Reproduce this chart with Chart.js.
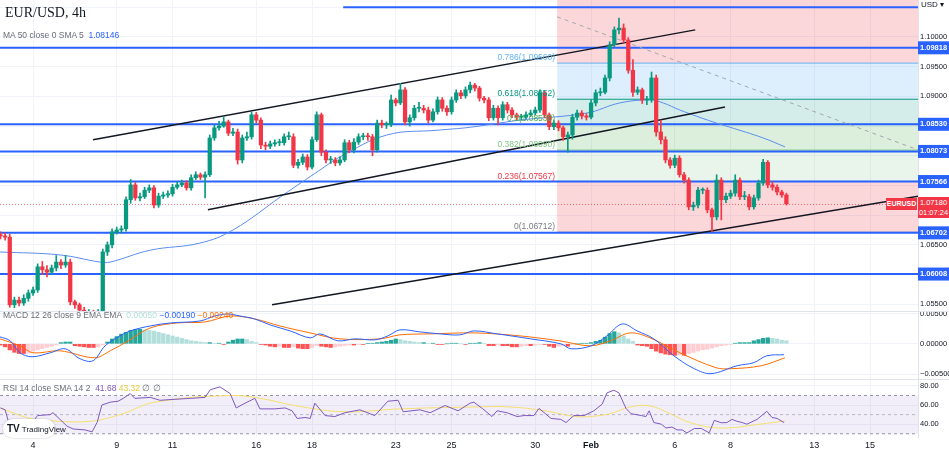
<!DOCTYPE html>
<html>
<head>
<meta charset="utf-8">
<script src="https://cdn.jsdelivr.net/npm/chart.js@4.4.1/dist/chart.umd.min.js"></script>
<style>
  body { margin: 0; background: #fff; width: 949px; height: 454px; overflow: hidden; font-family: "Liberation Sans", Arial, sans-serif; }
  .pane { position: absolute; left: 0; width: 949px; }
  .lbl { position: absolute; font-size: 8.5px; color: #6a6d78; white-space: nowrap; }
  .sep { position: absolute; left: 0; width: 949px; height: 1px; background: #e0e3eb; }
</style>
</head>
<body>
<div class="pane" style="top:0;height:311px"><canvas id="price"></canvas></div>
<div class="pane" style="top:312px;height:67px"><canvas id="macd"></canvas></div>
<div class="pane" style="top:380px;height:74px"><canvas id="rsi"></canvas></div>
<div class="sep" style="top:311px"></div>
<div class="sep" style="top:379px"></div>

<div class="lbl" style="left:5px;top:5px;font-family:'Liberation Serif',serif;font-size:14px;color:#131722">EUR/USD, 4h</div>
<div class="lbl" style="left:3px;top:30px">MA 50 close 0 SMA 5 &nbsp;<span style="color:#2962ff">1.08146</span></div>
<div class="lbl" style="left:3px;top:310px">MACD 12 26 close 9 EMA EMA &nbsp;<span style="color:#b2dfdb">0.00050</span> <span style="color:#2962ff">−0.00190</span> <span style="color:#ff6d00">−0.00240</span></div>
<div class="lbl" style="left:3px;top:383px">RSI 14 close SMA 14 2 &nbsp;<span style="color:#7e57c2">41.68</span> <span style="color:#e8c93a">43.32</span> ∅ ∅</div>
<div style="position:absolute;left:3px;top:419px;width:52px;height:19px;background:#fff;border-radius:10px;box-shadow:0 0 2px rgba(0,0,0,0.25);font-size:8px;color:#131722;line-height:19px;white-space:nowrap">
  <span style="font-weight:bold;font-size:10px;margin-left:4px">TV</span> TradingView</div>
<div style="position:absolute;left:921px;top:0;font-size:8px;color:#131722">USD ▾</div>
<div style="position:absolute;left:886px;top:198px;width:31px;height:12px;background:#f23645;color:#fff;font-size:7px;font-weight:bold;line-height:12px;text-align:center">EURUSD</div>
<div id="lastBox" style="position:absolute;left:918px;top:197px;width:31px;height:21px;background:#f23645;color:#fff;font-size:7.5px;line-height:10px;text-align:center;padding-top:1px;box-sizing:border-box"></div>

<script>
// ---- data (x = 4h candle index, 0 = Jan 4 00:00, 6 candles per trading day) ----
const firstCandle = -7;
const firstOpen = 1.0667;
const closes = [1.0665,1.0663,1.0549,1.0557,1.0552,1.0560,1.0569,1.0574,1.0613,1.0608,1.0604,1.0611,1.0621,1.0616,1.0621,1.0554,1.0549,1.0540,1.0532,1.0537,1.0532,1.0537,
  1.0638,1.0650,1.0672,1.0675,1.0677,1.0726,1.0751,1.0729,1.0731,1.0742,1.0746,1.0717,1.0732,1.0734,1.0736,1.0747,1.0751,1.0754,1.0746,1.0763,1.0768,1.0764,1.0768,
  1.0830,1.0847,1.0850,1.0857,1.0838,1.0840,1.0793,1.0830,1.0832,1.0869,1.0860,1.0818,1.0816,1.0820,1.0822,1.0822,1.0832,1.0832,1.0784,1.0789,1.0798,1.0781,1.0827,1.0869,
  1.0806,1.0793,1.0793,1.0788,1.0793,1.0822,1.0810,1.0823,1.0832,1.0833,
  1.0832,1.0810,1.0855,1.0852,1.0852,1.0894,1.0889,1.0911,1.0857,1.0864,
  1.0880,1.0880,1.0877,1.0860,1.0874,1.0894,1.0880,1.0874,1.0894,1.0906,
  1.0901,1.0911,1.0919,1.0914,1.0897,1.0894,1.0864,1.0880,1.0864,1.0886,
  1.0877,1.0869,1.0865,1.0865,1.0869,1.0872,1.0877,1.0906,1.0869,1.0849,
  1.0855,1.0847,1.0832,1.0835,1.0865,1.0872,1.0867,1.0865,1.0889,1.0906,
  1.0907,1.0931,1.0987,1.1012,1.1015,1.0995,1.0944,1.0907,1.0911,1.0894,
  1.0894,1.0931,1.0840,1.0827,1.0793,1.0784,1.0796,1.0768,1.0759,1.0714,
  1.0717,1.0742,1.0742,1.0709,1.0697,1.0759,1.0726,1.0732,1.0737,1.0759,
  1.0731,1.0731,1.0714,1.0729,1.0754,1.0789,1.0751,1.0747,1.0739,1.0734,1.0719];
const highs = [1.0672,1.0670,1.0668,1.0562,1.0562,1.0566,1.0574,1.0579,1.0618,1.0622,1.0615,1.0616,1.0632,1.0625,1.0632,1.0626,1.0557,1.0552,1.0545,1.0541,1.0540,1.0541,
  1.0643,1.0655,1.0677,1.0680,1.0682,1.0731,1.0760,1.0755,1.0737,1.0747,1.0751,1.0750,1.0737,1.0739,1.0741,1.0752,1.0756,1.0759,1.0758,1.0768,1.0773,1.0771,1.0773,
  1.0835,1.0852,1.0858,1.0866,1.0860,1.0846,1.0845,1.0835,1.0840,1.0874,1.0873,1.0864,1.0823,1.0825,1.0827,1.0828,1.0837,1.0840,1.0837,1.0794,1.0803,1.0802,1.0832,1.0874,
  1.0872,1.0810,1.0799,1.0797,1.0798,1.0827,1.0826,1.0829,1.0837,1.0838,
  1.0838,1.0836,1.0860,1.0860,1.0857,1.0902,1.0897,1.0922,1.0915,1.0869,
  1.0885,1.0890,1.0885,1.0882,1.0879,1.0899,1.0898,1.0884,1.0899,1.0911,
  1.0910,1.0916,1.0924,1.0922,1.0917,1.0900,1.0898,1.0885,1.0884,1.0891,
  1.0890,1.0881,1.0872,1.0870,1.0874,1.0877,1.0882,1.0911,1.0909,1.0872,
  1.0860,1.0859,1.0850,1.0840,1.0870,1.0877,1.0876,1.0871,1.0894,1.0911,
  1.0914,1.0936,1.0992,1.1017,1.1032,1.1022,1.0999,1.0962,1.0916,1.0914,
  1.0900,1.0941,1.0936,1.0860,1.0832,1.0797,1.0801,1.0800,1.0772,1.0763,
  1.0722,1.0747,1.0746,1.0746,1.0712,1.0768,1.0763,1.0737,1.0742,1.0768,
  1.0763,1.0740,1.0735,1.0734,1.0759,1.0794,1.0792,1.0756,1.0751,1.0742,1.0737];
const lows = [1.0660,1.0658,1.0545,1.0544,1.0547,1.0548,1.0555,1.0565,1.0570,1.0600,1.0596,1.0600,1.0606,1.0610,1.0612,1.0549,1.0543,1.0535,1.0528,1.0527,1.0528,1.0528,
  1.0533,1.0632,1.0645,1.0668,1.0670,1.0673,1.0720,1.0725,1.0724,1.0728,1.0738,1.0712,1.0713,1.0728,1.0730,1.0732,1.0744,1.0748,1.0742,1.0742,1.0760,1.0760,1.0729,
  1.0765,1.0826,1.0843,1.0848,1.0834,1.0834,1.0786,1.0788,1.0826,1.0828,1.0855,1.0812,1.0810,1.0812,1.0816,1.0817,1.0818,1.0827,1.0780,1.0779,1.0785,1.0776,1.0778,1.0824,
  1.0800,1.0788,1.0787,1.0783,1.0784,1.0790,1.0805,1.0805,1.0819,1.0827,
  1.0826,1.0800,1.0806,1.0847,1.0846,1.0849,1.0884,1.0886,1.0852,1.0850,
  1.0860,1.0874,1.0872,1.0855,1.0857,1.0870,1.0875,1.0868,1.0870,1.0890,
  1.0896,1.0897,1.0906,1.0909,1.0892,1.0889,1.0859,1.0860,1.0852,1.0860,
  1.0872,1.0864,1.0860,1.0860,1.0862,1.0866,1.0869,1.0873,1.0864,1.0844,
  1.0844,1.0842,1.0826,1.0806,1.0828,1.0860,1.0862,1.0860,1.0862,1.0884,
  1.0901,1.0904,1.0926,1.0983,1.1005,1.0990,1.0939,1.0900,1.0903,1.0888,
  1.0886,1.0890,1.0833,1.0820,1.0788,1.0779,1.0780,1.0764,1.0754,1.0709,
  1.0708,1.0712,1.0736,1.0704,1.0672,1.0692,1.0692,1.0721,1.0728,1.0732,
  1.0726,1.0726,1.0709,1.0710,1.0725,1.0750,1.0746,1.0742,1.0734,1.0730,1.0717];

const maX = [-7.1,5.8,14.4,16.6,25.2,35.9,43,53.8,61.7,66,76.1,86.9,94,104.7,119.1,126.2,132.7,135.5,139.1,146.2,149.9,157,161.7];
const maY = [1.0638,1.0633,1.0621,1.0621,1.0641,1.0653,1.0675,1.0734,1.0776,1.0798,1.0835,1.0843,1.0848,1.0860,1.0872,1.0889,1.0894,1.0889,1.0877,1.0857,1.0848,1.0830,1.0815];

const levelPrices = [1.09818,1.08530,1.08073,1.07566,1.06702,1.06008];
const topLine = {from: 66.7, price: 1.1050};
const lastPrice = 1.07180;
const countdown = "01:07:24";
const trendLines = [
  [[12.9,1.0827],[142.4,1.1012]],
  [[37.6,1.0709],[148.8,1.0882]],
  [[51.4,1.0549],[190.3,1.0732]]
];
const dashedLine = [[112.7,1.1034],[190.3,1.0810]];
const fibStart = 112.7;
const fibRatios = [0, 0.236, 0.382, 0.5, 0.618, 0.786];
const fibPrices = [1.06712, 1.07567, 1.08096, 1.08530, 1.08952, 1.09560];
const fibText = ["0(1.06712)", "0.236(1.07567)", "0.382(1.08090)", "0.5(1.08530)", "0.618(1.08952)", "0.786(1.09560)"];

const macdHist = [-0.0002,-0.0005,-0.0010,-0.0014,-0.0016,-0.0016,-0.0015,
  -0.0012,-0.0010,-0.0008,-0.0006,-0.0004,-0.0002,
  0.0002,0.0003,0.0003,
  -0.0003,-0.0004,-0.0005,-0.0006,-0.0006,-0.0005,
  -0.0002,
  0.0003,0.0008,0.0012,0.0016,0.0019,0.0022,0.0024,
  0.0024,0.0023,0.0022,0.0021,0.0019,0.0017,0.0015,0.0013,0.0011,0.0009,0.0007,0.0005,0.0004,0.0003,0.0002,0.0002,0.0001,0.0001,
  -0.0001,
  0.0003,0.0006,0.0008,0.0008,0.0007,0.0004,
  0.0002,-0.0001,-0.0002,
  -0.0004,-0.0005,-0.0004,
  -0.0006,-0.0006,-0.0005,-0.0007,-0.0008,-0.0008,-0.0006,
  -0.0003,-0.0004,-0.0005,-0.0006,-0.0005,-0.0004,
  -0.0003,-0.0002,-0.0002,-0.0001,-0.0001,
  0.0001,0.0001,0.0002,0.0003,0.0004,0.0006,0.0008,0.0007,0.0005,
  0.0004,0.0003,0.0002,0.0002,0.0001,0.0001,-0.0001,-0.0001,0,
  0.0001,0.0001,0,-0.0001,0.0001,0.0001,0.0002,0.0001,
  -0.0003,-0.0003,-0.0002,-0.0003,-0.0003,
  -0.0005,-0.0005,-0.0004,
  -0.0003,-0.0003,-0.0002,-0.0001,-0.0001,
  -0.0004,-0.0006,-0.0004,-0.0003,-0.0004,
  -0.0001,0,0.0001,0.0001,
  0.0002,0.0004,0.0006,0.0011,0.0017,0.0020,0.0018,
  0.0013,0.0008,0.0004,
  -0.0002,-0.0003,-0.0004,
  -0.0008,-0.0012,-0.0015,-0.0017,-0.0018,
  -0.0019,-0.0018,-0.0019,
  -0.0016,-0.0014,-0.0012,-0.0010,-0.0009,-0.0007,-0.0005,-0.0003,-0.0002,
  -0.0001,0.0001,0.0002,0.0002,0.0002,
  0.0005,0.0007,0.0009,0.0010,
  0.0009,0.0008,0.0006,0.0005];
const macdX = [-7.1,-4.9,-2.8,-0.2,3.7,6.9,10.1,12.9,15.5,18.7,20.9,25.2,29.5,35.9,39.1,41.9,44.5,47.7,51,55.3,59.6,61.7,65.6,69.2,73.5,76.3,78.9,83.2,87.5,91.8,94.8,99.8,107,113.5,115.7,120,123.4,126.7,129.9,133.5,137.8,142.2,145.8,151.4,155,157.8,161.5];
const macdY = [0.00115,0.00049,-0.00148,-0.00213,-0.00148,-0.00082,-0.00246,-0.00279,-0.00033,0.00131,0.00213,0.00295,0.00344,0.00377,0.00459,0.00492,0.00459,0.0041,0.00311,0.00213,0.00098,0.00164,0.00049,0.00082,0.00066,0.00131,0.0023,0.00197,0.00164,0.00148,0.00213,0.00164,0.00082,0,-0.00082,-0.00033,0.00131,0.00328,0.00213,0.00082,-0.00197,-0.0041,-0.00492,-0.00361,-0.0031,-0.00197,-0.0018];
const signalX = [-7.1,-2.8,0,5.8,13.3,16.6,20.5,25.2,31,37,42.4,47.7,53.1,59.6,66,74.6,78.9,85.4,95,104.7,113.3,119.8,124.1,128.4,132.7,139.1,146.9,150.1,156.6,161.7];
const signalY = [0.00082,-0.00033,-0.00148,-0.00115,-0.0023,-0.00115,0.00049,0.00262,0.00344,0.00361,0.00459,0.0041,0.00295,0.0018,0.00082,0.00082,0.00148,0.00164,0.0018,0.00131,0.00049,-0.00033,0.00049,0.0018,0.00098,-0.00148,-0.00394,-0.0041,-0.00361,-0.0023];

const rsiX = [-7,-6,-5,-3,0,1,3.7,4.3,5.8,7.3,8.6,11.2,12.7,13.8,14.8,16.6,18.3,19.4,20.9,21.9,25.2,27.3,30.5,33.8,37,38.1,40.2,42.4,43.7,45.6,47.7,48.8,52,54.2,55.7,56.8,58.5,59.6,60.6,62.8,64.9,67.1,70.3,73.5,76.3,78.5,79.6,83.2,85.4,88.6,91.4,94,94.8,96.6,98.7,99.8,101.9,104.1,105.6,107.7,108.8,111.4,113.5,114.6,116.3,118.5,120.6,122.4,123.4,124.9,126,127.5,128.6,130.8,131.8,132.5,133.5,135.1,136.1,137.4,138.5,139.6,140.6,142.2,143.7,145.4,146.5,148,149.2,150.3,151.4,152.5,153.5,155.7,157.8,158.9,160,161.5];
const rsiY = [57,55,38,40,43,49,50,52,45,38,35,34,32,42,60,63,64,67,72,67,68,65,66,67,68,76,79,72,57,62,67,56,56,57,54,46,47,46,62,49,48,52,55,49,64,65,53,55,52,59.5,54,62,63,56.5,48,54,52,48,49,49,56.5,46,45,41.7,49,49,54,61,72.7,75.5,72.7,56.5,51,49,48,54,41.7,40,36,37,34,34,30.8,35.5,35.5,31,44,41.5,41.7,45,43,41.7,40,45,53.5,47,46,41.68];
const rsiSmaX = [-7.1,-0.6,3.7,12.3,18.7,26.2,42.4,48.8,57.4,67.1,78.9,95,102.6,110.1,116.6,119.8,124.1,128.4,132.7,137,141.3,147.7,156.3,161.7];
const rsiSmaY = [57,46,43.5,43,50,63,70,67,58.5,53,56,58,58,54,48,48,51,58,59,51,41.7,36,40,43.32];

const dayTicks = [0,3,5,8,10,13,15,18,20,23,25,28,30];
const dayLabels = ["4","9","11","16","18","23","25","30","Feb","6","8","13","15"];

// ---- shared helpers ----
const X_MIN = -7.1, X_MAX = 190.3, AXIS_W = 31;
const GRID = "#f0f3fa";
const FONT = "'Liberation Sans', Arial, sans-serif";
const pts = (xs, ys) => xs.map((x, i) => ({x: x, y: ys[i]}));
const seg = (a, b) => [{x: a[0], y: a[1]}, {x: b[0], y: b[1]}];
const tv = ctx => (ctx && ctx.tick) ? ctx.tick.value : null;

document.getElementById("lastBox").innerHTML = lastPrice.toFixed(5) + "<br>" + countdown;

function xScale(showLabels) {
  return {
    type: "linear", min: X_MIN, max: X_MAX, offset: false,
    afterBuildTicks: s => { s.ticks = dayTicks.map(d => ({value: d * 6})); },
    afterFit: s => { s.height = showLabels ? 17 : 0; s.paddingLeft = 0; s.paddingRight = 0; },
    ticks: {display: showLabels, autoSkip: false, maxRotation: 0, padding: 3,
      callback: (v) => dayLabels[dayTicks.indexOf(v / 6)],
      font: ctx => ({family: FONT, size: 9, weight: tv(ctx) === 120 ? "bold" : "normal"}),
      color: "#131722"},
    grid: {color: GRID, drawTicks: false, offset: false},
    border: {display: false}
  };
}
function yScale(min, max, tickVals, fmt, extra) {
  return Object.assign({
    position: "right", min: min, max: max,
    afterBuildTicks: s => { s.ticks = tickVals.map(v => ({value: v})); },
    afterFit: s => { s.width = AXIS_W; s.paddingTop = 0; s.paddingBottom = 0; },
    ticks: {callback: fmt, color: "#131722", font: {family: FONT, size: 7.5}, padding: 2, autoSkip: false},
    grid: {color: GRID, drawTicks: false},
    border: {color: "#e0e3eb"}
  }, extra || {});
}
const baseOpts = {
  responsive: true, maintainAspectRatio: false, animation: false,
  layout: {padding: 0},
  plugins: {legend: {display: false}, tooltip: {enabled: false}},
  elements: {point: {radius: 0}}
};

// ---- price pane ----
const candles = closes.map((c, i) => {
  const o = i === 0 ? firstOpen : closes[i - 1];
  return {x: firstCandle + i, o: o, c: c, h: highs[i], l: lows[i]};
});
const UP = "#089981", DN = "#f23645";
const fibLine = ["#787b86", "#f23645", "#81c784", "#4caf50", "#089981", "#64b5f6"];
// band fill below each level (between level i-1 and level i)
const fibFill = ["", "rgba(242,54,69,0.2)", "rgba(76,175,80,0.12)", "rgba(76,175,80,0.2)", "rgba(0,150,136,0.17)"];

const priceSets = [];
fibPrices.forEach((p, i) => {
  priceSets.push({type: "line", data: seg([fibStart, p], [X_MAX, p]), borderColor: fibLine[i], borderWidth: 1,
    fill: (i === 0 || i === 5) ? false : {target: i - 1}, backgroundColor: fibFill[i] || "transparent", order: 20});
});
// 0.618-0.786 band, and pink band above 0.786
priceSets.push({type: "line", data: seg([fibStart, fibPrices[5]], [X_MAX, fibPrices[5]]), borderWidth: 0,
  fill: {target: 4}, backgroundColor: "rgba(100,181,246,0.22)", order: 21});
priceSets.push({type: "line", data: seg([fibStart, fibPrices[5]], [X_MAX, fibPrices[5]]), borderWidth: 0,
  fill: "end", backgroundColor: "rgba(242,54,69,0.2)", order: 21});

levelPrices.forEach(p => priceSets.push({type: "line", data: seg([X_MIN, p], [X_MAX, p]), borderColor: "#2962ff", borderWidth: 2, order: 3}));
priceSets.push({type: "line", data: seg([topLine.from, topLine.price], [X_MAX, topLine.price]), borderColor: "#2962ff", borderWidth: 2, order: 3});
priceSets.push({type: "line", data: seg([X_MIN, lastPrice], [X_MAX, lastPrice]), borderColor: "rgba(242,54,69,0.7)", borderWidth: 1, borderDash: [1, 2], order: 4});
trendLines.forEach(t => priceSets.push({type: "line", data: seg(t[0], t[1]), borderColor: "#131722", borderWidth: 1.5, order: 2}));
priceSets.push({type: "line", data: seg(dashedLine[0], dashedLine[1]), borderColor: "#a3a6af", borderWidth: 1, borderDash: [4, 4], order: 2});
priceSets.push({type: "line", data: pts(maX, maY), borderColor: "#5b8def", borderWidth: 1, tension: 0.4, order: 2});
priceSets.push({type: "bar", data: candles.map(k => ({x: k.x, y: [k.l, k.h]})), barThickness: 1, grouped: false,
  backgroundColor: candles.map(k => k.c >= k.o ? UP : DN), order: 1});
priceSets.push({type: "bar", data: candles.map(k => ({x: k.x, y: [k.o, k.c]})), barThickness: 3.6, grouped: false,
  minBarLength: 1, backgroundColor: candles.map(k => k.c >= k.o ? UP : DN), order: 0});

const plainTicks = [1.100, 1.095, 1.090, 1.065, 1.055];
const gridOnly = [1.105, 1.085, 1.080, 1.075, 1.070, 1.060];
const priceTicks = gridOnly.concat(plainTicks, levelPrices);
const isLevel = v => levelPrices.includes(v);
const priceLabel = v => gridOnly.includes(v) ? "" : v.toFixed(5);

const fibLabels = {
  id: "fibLabels",
  afterDatasetsDraw(chart) {
    const {ctx, scales} = chart;
    const x = scales.x.getPixelForValue(fibStart) - 2;
    ctx.save();
    ctx.font = "8.5px " + FONT;
    ctx.textAlign = "right";
    ctx.textBaseline = "bottom";
    fibPrices.forEach((p, i) => {
      ctx.fillStyle = fibLine[i];
      ctx.fillText(fibText[i], x, scales.y.getPixelForValue(p) - 1);
    });
    ctx.restore();
  }
};

new Chart(document.getElementById("price"), {
  data: {datasets: priceSets},
  options: Object.assign({}, baseOpts, {
    scales: {
      x: xScale(false),
      y: yScale(1.05386, 1.10623, priceTicks, priceLabel, {
        ticks: {
          callback: priceLabel,
          color: ctx => isLevel(tv(ctx)) ? "#ffffff" : "#131722",
          font: ctx => ({family: FONT, size: 7.5, weight: isLevel(tv(ctx)) ? "bold" : "normal"}),
          showLabelBackdrop: true,
          backdropColor: ctx => isLevel(tv(ctx)) ? "#2962ff" : "rgba(0,0,0,0)",
          backdropPadding: {x: 2, y: 2},
          padding: 2, autoSkip: false
        },
        grid: {color: ctx => (gridOnly.includes(tv(ctx)) || plainTicks.includes(tv(ctx))) ? GRID : "rgba(0,0,0,0)", drawTicks: false}
      })
    }
  }),
  plugins: [fibLabels]
});

// ---- MACD pane ----
const histColors = macdHist.map((v, i) => {
  const prev = i === 0 ? 0 : macdHist[i - 1];
  if (v >= 0) return v >= prev ? "#26a69a" : "#b2dfdb";
  return v <= prev ? "#ff5252" : "#ffcdd2";
});
new Chart(document.getElementById("macd"), {
  data: {datasets: [
    {type: "line", data: pts(macdX, macdY), borderColor: "#2962ff", borderWidth: 1, tension: 0.35, order: 0},
    {type: "line", data: pts(signalX, signalY), borderColor: "#ff6d00", borderWidth: 1, tension: 0.35, order: 1},
    {type: "bar", data: macdHist.map((v, i) => ({x: firstCandle + i, y: v})), backgroundColor: histColors, barThickness: 3.6, order: 2}
  ]},
  options: Object.assign({}, baseOpts, {
    scales: {
      x: xScale(false),
      y: yScale(-0.0058, 0.00525, [0.005, 0, -0.005], v => v === 0 ? "0.00000" : (v > 0 ? "0.00500" : "−0.00500"))
    }
  })
});

// ---- RSI pane ----
new Chart(document.getElementById("rsi"), {
  data: {datasets: [
    {type: "line", data: seg([X_MIN, 70], [X_MAX, 70]), borderColor: "#9598a1", borderWidth: 1, borderDash: [3, 3], order: 5},
    {type: "line", data: seg([X_MIN, 30], [X_MAX, 30]), borderColor: "#9598a1", borderWidth: 1, borderDash: [3, 3],
      fill: {target: 0}, backgroundColor: "rgba(126,87,194,0.1)", order: 5},
    {type: "line", data: seg([X_MIN, 50], [X_MAX, 50]), borderColor: "rgba(149,152,161,0.6)", borderWidth: 1, borderDash: [3, 3], order: 5},
    {type: "line", data: pts(rsiSmaX, rsiSmaY), borderColor: "#f5df6e", borderWidth: 1, tension: 0.4, order: 1},
    {type: "line", data: pts(rsiX, rsiY), borderColor: "#7e57c2", borderWidth: 1, tension: 0, order: 0}
  ]},
  options: Object.assign({}, baseOpts, {
    scales: {
      x: xScale(true),
      y: yScale(26.6, 86.2, [80, 60, 40], v => v.toFixed(2))
    }
  })
});
</script>
</body>
</html>
